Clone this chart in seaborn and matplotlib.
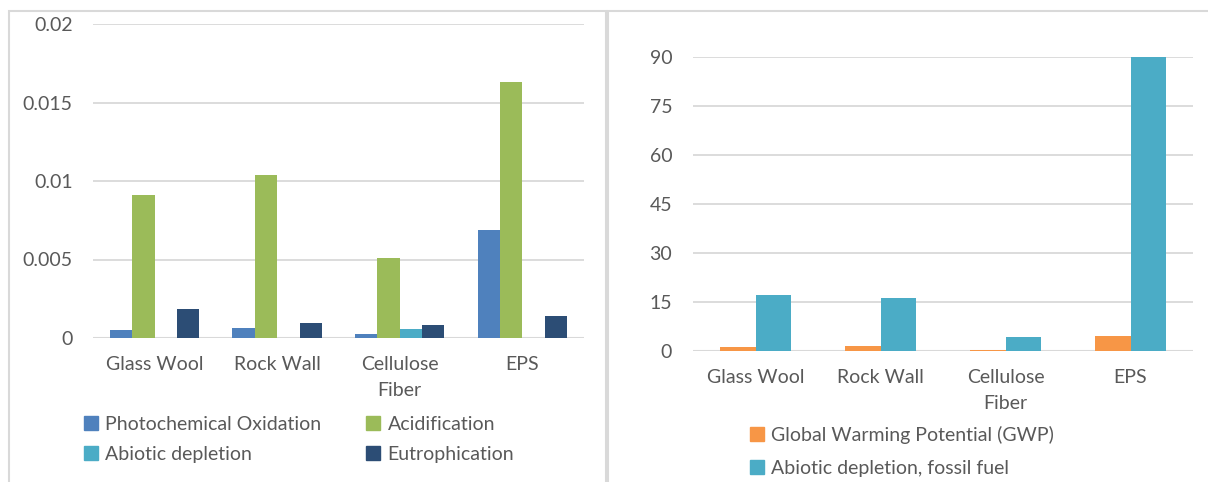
import numpy as np
import pandas as pd
import seaborn as sns
import matplotlib.pyplot as plt
from matplotlib.patches import Rectangle

# data
materials = ['Glass Wool', 'Rock Wall', 'Cellulose\nFiber', 'EPS']

photochemical = [0.00049, 0.00064, 0.00025, 0.00688]
acidification = [0.00911, 0.01040, 0.00510, 0.01629]
abiotic = [0.00002, 0.00002, 0.00057, 0.00002]
eutrophication = [0.00183, 0.00094, 0.00083, 0.00142]

gwp = [1.2, 1.4, 0.3, 4.5]
abiotic_fossil = [17.1, 16.1, 4.2, 90.0]

left_series = ['Photochemical Oxidation', 'Acidification', 'Abiotic depletion', 'Eutrophication']
left_colors = ['#4F81BD', '#9BBB59', '#4BACC6', '#2C4D75']
right_series = ['Global Warming Potential (GWP)', 'Abiotic depletion, fossil fuel']
right_colors = ['#F79646', '#4BACC6']

df_left = pd.DataFrame({
    'material': materials * 4,
    'impact': np.repeat(left_series, 4),
    'value': photochemical + acidification + abiotic + eutrophication,
})
df_right = pd.DataFrame({
    'material': materials * 2,
    'impact': np.repeat(right_series, 4),
    'value': gwp + abiotic_fossil,
})

sns.set_theme(style='white')
plt.rcParams['font.family'] = ['Lato', 'DejaVu Sans']
txt = '#595959'
grid = '#D9D9D9'
fs = 14
W, H = 1208, 482

fig = plt.figure(figsize=(W / 100, H / 100), dpi=100)

# chart frames (excel style boxes)
fig.patches.append(Rectangle((9 / W, -0.1), 597 / W, 1.1 - 11 / H, transform=fig.transFigure,
                             fill=False, edgecolor=grid, linewidth=1.5))
fig.patches.append(Rectangle((608 / W, -0.1), 700 / W, 1.1 - 11 / H, transform=fig.transFigure,
                             fill=False, edgecolor=grid, linewidth=1.5))

ax1 = fig.add_axes([93.4 / W, (H - 338) / H, 490.1 / W, 314 / H])
ax2 = fig.add_axes([693 / W, (H - 351) / H, 500 / W, 293.7 / H])

sns.barplot(data=df_left, x='material', y='value', hue='impact', palette=left_colors,
            saturation=1, width=0.73, linewidth=0, ax=ax1, legend=False)
sns.barplot(data=df_right, x='material', y='value', hue='impact', palette=right_colors,
            saturation=1, width=0.574, linewidth=0, ax=ax2, legend=False)

ax1.set_ylim(0, 0.02)
ax1.set_yticks([0, 0.005, 0.01, 0.015, 0.02])
ax1.set_yticklabels(['0', '0.005', '0.01', '0.015', '0.02'])
ax2.set_ylim(0, 90)
ax2.set_yticks(np.arange(0, 91, 15))

for ax in (ax1, ax2):
    ax.set_xlim(-0.5, 3.5)
    ax.set_xlabel('')
    ax.set_ylabel('')
    ax.yaxis.grid(True, color=grid, linewidth=1.3)
    ax.set_axisbelow(True)
    for s in ax.spines.values():
        s.set_visible(False)
    ax.axhline(0, color=grid, linewidth=1.5, zorder=0.5)
    ax.tick_params(axis='both', length=0, labelsize=fs, labelcolor=txt)
    ax.tick_params(axis='y', pad=15)
    ax.tick_params(axis='x', pad=13)
    for lbl in ax.get_xticklabels():
        lbl.set_linespacing(1.65)
        lbl.set_verticalalignment('top')

# row-wise order for the two-column legend
order = [0, 2, 1, 3]
h1 = [Rectangle((0, 0), 1, 1, color=left_colors[i]) for i in order]
fig.legend(h1, [left_series[i] for i in order], loc='upper left', bbox_to_anchor=(84 / W, 1 - 416 / H),
           ncol=2, frameon=False, fontsize=fs, labelcolor=txt, handlelength=0.7, handleheight=0.7,
           handletextpad=0.4, columnspacing=2.3, labelspacing=0.65, borderaxespad=0, borderpad=0)
h2 = [Rectangle((0, 0), 1, 1, color=c) for c in right_colors]
fig.legend(h2, right_series, loc='upper left', bbox_to_anchor=(750 / W, 1 - 426 / H), ncol=1,
           frameon=False, fontsize=fs, labelcolor=txt, handlelength=0.7, handleheight=0.7,
           handletextpad=0.4, labelspacing=0.8, borderaxespad=0, borderpad=0)

fig.savefig('out.png', dpi=100)
